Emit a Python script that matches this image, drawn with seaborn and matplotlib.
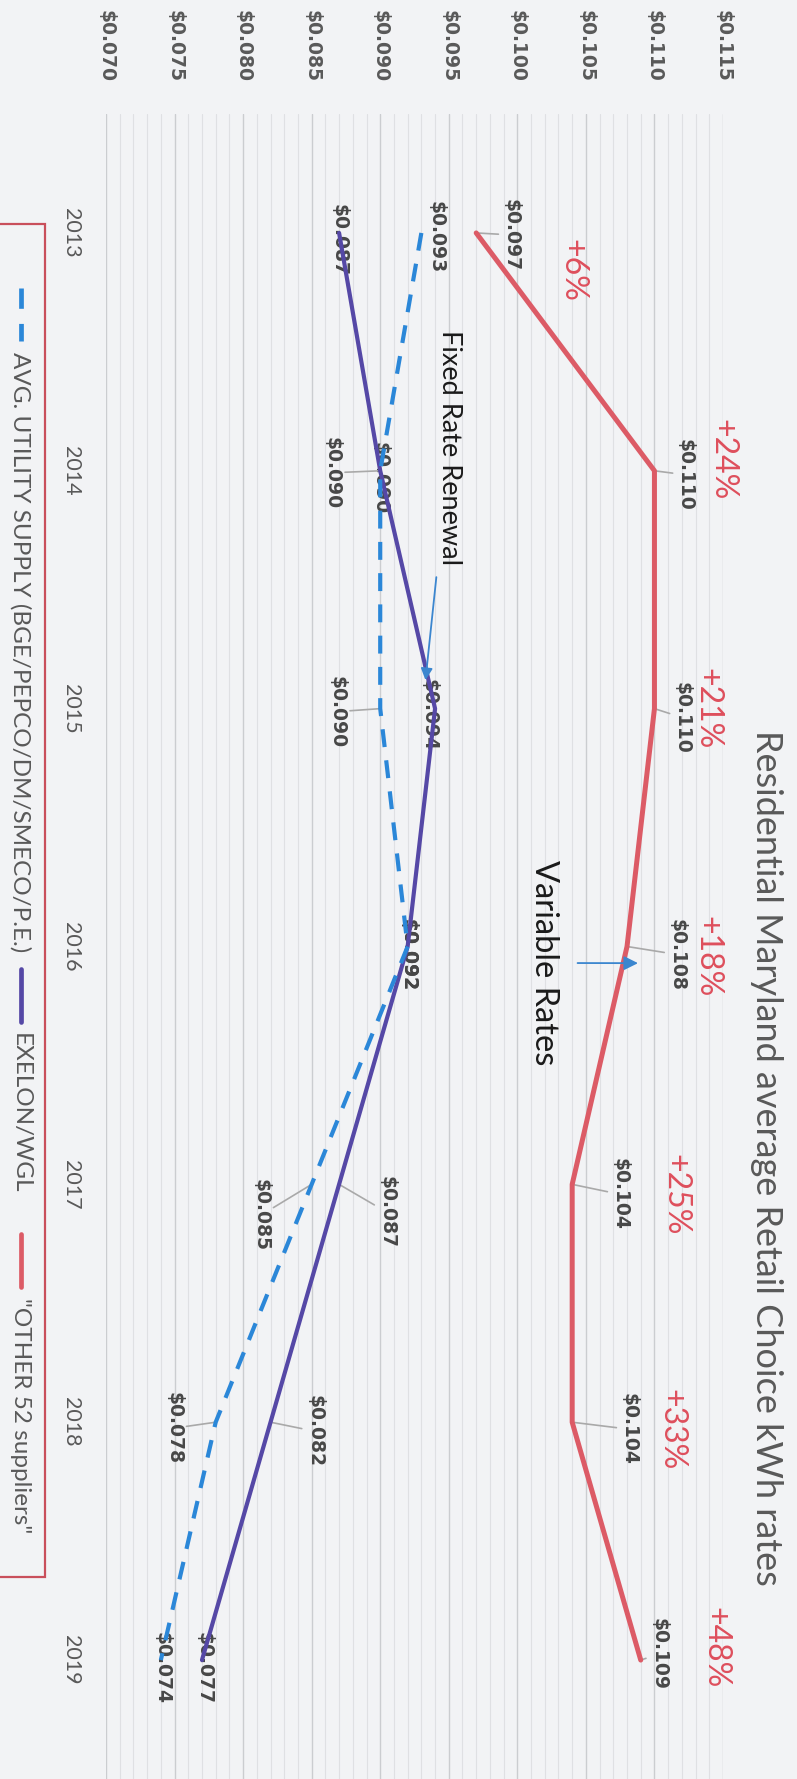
import matplotlib
matplotlib.use("Agg")
import matplotlib.pyplot as plt
from matplotlib.lines import Line2D
from matplotlib.patches import Rectangle
from matplotlib.ticker import MultipleLocator, FixedLocator, FixedFormatter
import pandas as pd
import seaborn as sns

# ---- data ----
years = [2013, 2014, 2015, 2016, 2017, 2018, 2019]
utility = [0.093, 0.090, 0.090, 0.092, 0.085, 0.078, 0.074]
exelon = [0.087, 0.090, 0.094, 0.092, 0.087, 0.082, 0.077]
others = [0.097, 0.110, 0.110, 0.108, 0.104, 0.104, 0.109]
others_pct = ["+6%", "+24%", "+21%", "+18%", "+25%", "+33%", "+48%"]
value_ticks = [0.070, 0.075, 0.080, 0.085, 0.090, 0.095, 0.100, 0.105, 0.110, 0.115]
value_tick_labels = ["$0.070", "$0.075", "$0.080", "$0.085", "$0.090",
                     "$0.095", "$0.100", "$0.105", "$0.110", "$0.115"]
series_names = ["AVG. UTILITY SUPPLY (BGE/PEPCO/DM/SMECO/P.E.)",
                "EXELON/WGL", '"OTHER 52 suppliers"']
title = "Residential Maryland average Retail Choice kWh rates"

# ---- label placement (pixel offsets: right, down) ----
others_val_off = [(35, 2), (31, 4), (28, 9), (50, 8), (48, 10), (57, 7), (18, -6)]
others_pct_off = [(96, 38), (68, -11), (53, 0), (80, 10), (103, 10), (99, 7), (75, -12)]
exelon_off = [(0, 7), (0, 7), (-6, 6), (0, 9), (48, 28), (44, 9), (2, 8)]
utility_off = [(15, 4), (-48, 2), (-43, 3), (0, 9), (-51, 31), (-42, 6), (1, 8)]

W, H = 797, 1779
BG = "#f2f3f5"
RED = "#dc5b66"
PCT_RED = "#de4f5c"
PURPLE = "#5548a6"
BLUE = "#2b87d8"
GRAY = "#595959"
LABEL = "#474747"
DASH = (0, (4.3, 3.2))

sns.set_style("white", rc={"axes.facecolor": BG, "figure.facecolor": BG})
plt.rcParams["font.family"] = ["DejaVu Sans"]

fig = plt.figure(figsize=(W / 100, H / 100), dpi=100)
fig.patch.set_facecolor(BG)
top_px = 114
ax = fig.add_axes([106 / W, 0, 617 / W, (H - top_px) / H])
ax.set_facecolor(BG)

df = pd.DataFrame({
    "year": years * 3,
    "rate": utility + exelon + others,
    "series": [series_names[0]] * 7 + [series_names[1]] * 7 + [series_names[2]] * 7,
})

sns.lineplot(data=df[df.series == series_names[2]], x="rate", y="year", orient="y",
             color=RED, lw=3.6, ax=ax, legend=False, zorder=3)
sns.lineplot(data=df[df.series == series_names[1]], x="rate", y="year", orient="y",
             color=PURPLE, lw=3.0, ax=ax, legend=False, zorder=3)
sns.lineplot(data=df[df.series == series_names[0]], x="rate", y="year", orient="y",
             color=BLUE, lw=3.0, linestyle=DASH, ax=ax, legend=False, zorder=3)

ax.set_xlim(0.070, 0.115)
ax.set_ylim(2019.5, 2012.5)
ax.set_xlabel("")
ax.set_ylabel("")
for s in ax.spines.values():
    s.set_visible(False)

# value axis along the top
ax.xaxis.set_major_locator(FixedLocator(value_ticks))
ax.xaxis.set_major_formatter(FixedFormatter(value_tick_labels))
ax.xaxis.set_minor_locator(MultipleLocator(0.001))
ax.tick_params(axis="x", which="both", top=True, bottom=False, labeltop=True,
               labelbottom=False, length=0, pad=23)
for t in ax.get_xticklabels():
    t.set_rotation(-90)
    t.set_fontweight("bold")
    t.set_fontsize(13.5)
    t.set_color(GRAY)
    t.set_va("bottom")
    t.set_ha("center")

# year axis along the left
ax.set_yticks(years)
ax.set_yticklabels([str(y) for y in years])
ax.tick_params(axis="y", length=0, pad=18)
for t in ax.get_yticklabels():
    t.set_rotation(-90)
    t.set_family("Lato")
    t.set_fontsize(15.5)
    t.set_color(GRAY)
    t.set_va("center")
    t.set_ha("right")

ax.grid(False)
ax.grid(which="major", axis="x", color="#cbcdd0", lw=1.0, zorder=0)
ax.grid(which="minor", axis="x", color="#dfe0e3", lw=0.8, zorder=0)
ax.set_axisbelow(True)


def point_label(xv, yv, text, off, color, size, weight, family, leader):
    dx, dy = off
    kw = {}
    if leader:
        kw["arrowprops"] = dict(arrowstyle="-", color="#a9a9a9", lw=1.2,
                                shrinkA=0, shrinkB=0)
    ax.annotate(text, xy=(xv, yv), xytext=(dx, -dy), textcoords="offset pixels",
                rotation=-90, rotation_mode="anchor", ha="center", va="center",
                fontsize=size, color=color, fontweight=weight, family=family,
                zorder=2, **kw)


for i, y in enumerate(years):
    point_label(others[i], y, f"${others[i]:.3f}", others_val_off[i], LABEL, 13.5,
                "bold", "DejaVu Sans", True)
    point_label(others[i], y, others_pct[i], others_pct_off[i], PCT_RED, 23,
                "normal", "Lato", False)
    point_label(exelon[i], y, f"${exelon[i]:.3f}", exelon_off[i], LABEL, 13.5,
                "bold", "DejaVu Sans", abs(exelon_off[i][0]) > 20)
    point_label(utility[i], y, f"${utility[i]:.3f}", utility_off[i], LABEL, 13.5,
                "bold", "DejaVu Sans", abs(utility_off[i][0]) > 20)

# callouts
ax.annotate("Fixed Rate Renewal", xy=(0.0933, 2014.88), xytext=(450, H - 448),
            textcoords="figure pixels", rotation=-90, rotation_mode="anchor",
            ha="center", va="center", fontsize=19.5, family="Lato", color="#1a1a1a",
            arrowprops=dict(arrowstyle="-|>,head_length=0.5,head_width=0.25",
                            color="#3b86cf", lw=1.3, shrinkA=6, shrinkB=0,
                            mutation_scale=14))
ax.annotate("Variable Rates", xy=(0.1088, 2016.07), xytext=(544, H - 963),
            textcoords="figure pixels", rotation=-90, rotation_mode="anchor",
            ha="center", va="center", fontsize=23.5, family="Lato", color="#1a1a1a",
            arrowprops=dict(arrowstyle="-|>,head_length=0.6,head_width=0.3",
                            color="#3b86cf", lw=1.3, shrinkA=11, shrinkB=0,
                            mutation_scale=14))

# title
fig.text(766 / W, 1 - 1158 / H, title, rotation=-90, rotation_mode="anchor",
         ha="center", va="center", fontsize=26, family="Lato", color=GRAY)

# legend box
fig.add_artist(Rectangle((-2 / W, 1 - 1577 / H), 47 / W, (1577 - 224) / H,
                         transform=fig.transFigure, fill=False,
                         edgecolor="#c94f5b", lw=1.6))
legend_items = [
    (series_names[0], BLUE, DASH, 352),
    (series_names[1], PURPLE, "-", 1033),
    (series_names[2], RED, "-", 1298),
]
for name, col, ls, start in legend_items:
    fig.add_artist(Line2D([21 / W, 21 / W], [1 - (start - 64) / H, 1 - (start - 11) / H],
                          transform=fig.transFigure, color=col, lw=3.4, linestyle=ls))
    fig.text(20 / W, 1 - start / H, name, rotation=-90, rotation_mode="anchor",
             ha="left", va="center", fontsize=17.5, family="Lato", color=GRAY)

fig.savefig("out.png", dpi=100, facecolor=fig.get_facecolor())
